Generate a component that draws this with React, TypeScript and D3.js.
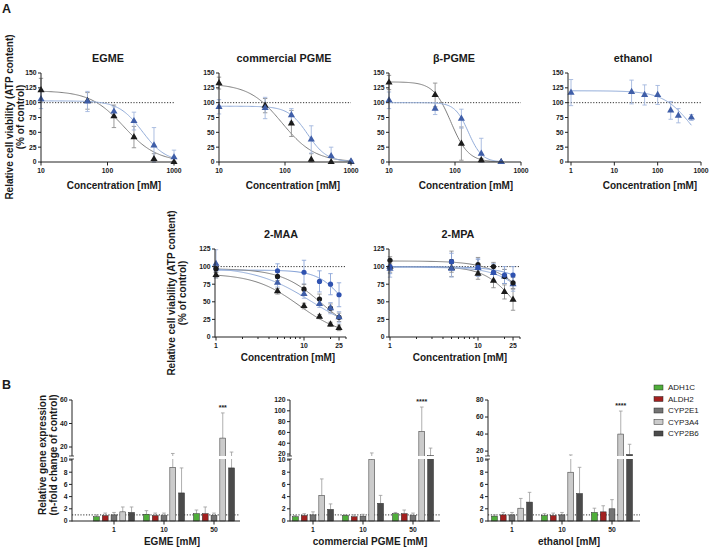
import React from 'react';
import * as d3 from 'd3';

const FONT = '"Liberation Sans", Arial, Helvetica, sans-serif';

// ---------------- Panel A data ----------------
const egmeConc = [10, 50, 125, 250, 500, 1000];
const egmeBlack = [121, 103, 77, 42, 5, 0];
const egmeBlackSd = [20, 14, 19, 18, 9, 1];
const egmeBlue = [106, 102, 85, 69, 28, 8];
const egmeBlueSd = [16, 17, 8, 15, 30, 12];
const egmeBlackFit = [120, 0, 175, 1.73];
const egmeBlueFit = [103, 0, 334, 2.44];

const pgmeConc = [10, 50, 125, 250, 500, 1000];
const pgmeBlack = [133, 95, 65, 4, 0, 0];
const pgmeBlackSd = [10, 12, 22, 10, 0, 0];
const pgmeBlue = [93, 91, 79, 38, 10, 1];
const pgmeBlueSd = [12, 18, 11, 23, 15, 2];
const pgmeBlackFit = [132, 0, 90, 1.74];
const pgmeBlueFit = [94, 0, 220, 2.95];

const bpgmeConc = [10, 50, 125, 250, 500];
const bpgmeBlack = [134, 113, 31, 3, 0];
const bpgmeBlackSd = [12, 20, 28, 3, 0];
const bpgmeBlue = [104, 90, 73, 14, 0];
const bpgmeBlueSd = [14, 10, 16, 26, 1];
const bpgmeBlackFit = [135, 0, 86.6, 3.29];
const bpgmeBlueFit = [100, 0, 160, 4.25];

const ethConc = [1, 25, 50, 100, 200, 300, 600];
const ethBlue = [117, 118, 113, 113, 87, 78, 75];
const ethBlueSd = [22, 20, 17, 16, 15, 12, 5];
const ethBlueFit = [120, 0, 631, 1.3];

const maaConc = [1, 5, 10, 15, 20, 25];
const maaBlackTri = [88, 65, 44, 29, 18, 13];
const maaBlackTriSd = [4, 4, 4, 3, 3, 4];
const maaBlackCirc = [97, 86, 68, 54, 41, 28];
const maaBlackCircSd = [5, 6, 7, 7, 6, 6];
const maaBlueTri = [104, 77, 61, 47, 41, 28];
const maaBlueTriSd = [20, 6, 6, 5, 8, 8];
const maaBlueCirc = [97, 94, 92, 79, 75, 60];
const maaBlueCircSd = [5, 10, 17, 15, 15, 17];
const maaBlackTriFit = [90, 0, 8.77, 1.7];
const maaBlackCircFit = [97, 0, 15.6, 1.91];
const maaBlueTriFit = [100, 0, 12.3, 1.335];
const maaBlueCircFit = [95, 0, 30.3, 2.82];

const mpaConc = [1, 5, 10, 15, 20, 25];
const mpaBlackCirc = [109, 107, 103, 100, 86, 77];
const mpaBlackCircSd = [5, 15, 10, 6, 10, 8];
const mpaBlueCirc = [100, 107, 99, 92, 88, 88];
const mpaBlueCircSd = [10, 12, 12, 12, 12, 12];
const mpaBlueTri = [97, 97, 98, 91, 86, 75];
const mpaBlueTriSd = [12, 12, 12, 10, 10, 10];
const mpaBlackTri = [100, 98, 90, 80, 64, 53];
const mpaBlackTriSd = [8, 12, 8, 10, 10, 15];
const mpaBlackCircFit = [108, 0, 39.5, 2.0];
const mpaBlueCircFit = [100, 0, 68, 2.0];
const mpaBlueTriFit = [99, 0, 43, 2.2];
const mpaBlackTriFit = [100, 0, 26.2, 2.48];

const yTicksRow1 = [0, 25, 50, 75, 100, 125, 150];
const yTicksRow2 = [0, 25, 50, 75, 100, 125];

// ---------------- Panel B data ----------------
const genes = ['ADH1C', 'ALDH2', 'CYP2E1', 'CYP3A4', 'CYP2B6'];
const geneColors = ['#4fae3a', '#a3201f', '#747474', '#cbcbcb', '#4b4b4b'];
const doses = ['1', '10', '50'];

const egmeB = [[0.7, 1.1, 1.2], [0.87, 0.87, 1.2], [1.0, 0.87, 0.9], [1.5, 8.8, 27.6], [1.4, 4.6, 8.7]];
const egmeBTop = [[1.0, 1.7, 1.8], [1.3, 1.3, 2.3], [1.4, 1.3, 1.3], [2.3, 14.5, 49], [2.3, 8.7, 15.7]];
const pgmeB = [[0.7, 0.9, 1.2], [0.9, 0.7, 1.2], [1.0, 0.8, 0.9], [4.2, 10.5, 62], [1.9, 2.9, 17]];
const pgmeBTop = [[0.9, 1.0, 1.4], [1.2, 1.0, 1.8], [1.5, 1.1, 1.3], [6.9, 22, 107], [2.8, 4.2, 31]];
const ethB = [[0.8, 0.9, 1.4], [1.0, 0.9, 1.5], [1.0, 1.0, 2.0], [2.1, 8.0, 40], [3.1, 4.5, 16]];
const ethBTop = [[1.0, 1.2, 2.1], [1.4, 1.3, 2.5], [1.4, 1.4, 3.5], [3.7, 15.5, 67], [4.7, 8.8, 28]];

const bottomTicks = [0, 2, 4, 6, 8, 10];
const egmeTopTicks = [20, 40, 60];
const pgmeTopTicks = [20, 40, 60, 80, 100, 120];
const ethTopTicks = [20, 40, 60, 80];

// ---------------- styles ----------------
const STYLE: Record<string, any> = {
  blackTri: { fill: '#1b1b1b', curve: '#808080', err: '#8e8e8e', shape: 'tri' },
  blackCirc: { fill: '#1b1b1b', curve: '#808080', err: '#8e8e8e', shape: 'circ' },
  blueTri: { fill: '#3f5ea8', curve: '#92acd9', err: '#a3b7de', shape: 'tri' },
  blueCirc: { fill: '#2f52b0', curve: '#7e9dd5', err: '#8ca6d8', shape: 'circ' },
};

const logistic = (p: number[]) => (c: number) => p[1] + (p[0] - p[1]) / (1 + Math.pow(c / p[2], p[3]));

type Series = { conc: number[]; mean: number[]; sd: number[]; fit: number[]; kind: string };

const tri = d3.symbol().type(d3.symbolTriangle).size(22)() as string;
const TICK_FS = 6.8;

function DosePanel(props: {
  axX: number; r0: number; r1: number; dom: [number, number]; yMax: number; yB: number; yT: number;
  yTicks: number[]; xTicks: number[]; minor: number[]; title: string; titleX: number; titleY: number;
  labelX: number; labelY: number; series: Series[];
}) {
  const { axX, r0, r1, dom, yMax, yB, yT, yTicks, xTicks, minor, title, titleX, titleY, labelX, labelY, series } = props;
  const x = d3.scaleLog().domain(dom).range([r0, r1]);
  const y = d3.scaleLinear().domain([0, yMax]).range([yB, yT]);
  return (
    <g>
      <text x={titleX} y={titleY} textAnchor="middle" fontSize={10.8} fontWeight="bold">{title}</text>
      <line x1={axX} x2={r1} y1={y(100)} y2={y(100)} stroke="#333" strokeWidth={1} strokeDasharray="1.2,1.6" />
      {series.map((s, i) => {
        const f = logistic(s.fit);
        const lo = s.conc[0], hi = s.conc[s.conc.length - 1];
        const pts = d3.range(0, 121).map((k) => Math.exp(Math.log(lo) + (Math.log(hi) - Math.log(lo)) * k / 120));
        const path = d3.line<number>().x((c) => x(c)).y((c) => y(Math.max(0, f(c))))(pts);
        return <path key={'c' + i} d={path as string} fill="none" stroke={STYLE[s.kind].curve} strokeWidth={1} />;
      })}
      {series.map((s, i) => s.conc.map((c, j) => {
        const st = STYLE[s.kind];
        const top = s.mean[j] + s.sd[j];
        const bot = Math.max(0, s.mean[j] - s.sd[j]);
        if (s.sd[j] <= 0) return null;
        const cx = x(c);
        return (
          <g key={'e' + i + '_' + j} stroke={st.err} strokeWidth={0.9}>
            <line x1={cx} x2={cx} y1={y(top)} y2={y(bot)} />
            <line x1={cx - 2.2} x2={cx + 2.2} y1={y(top)} y2={y(top)} />
            <line x1={cx - 2.2} x2={cx + 2.2} y1={y(bot)} y2={y(bot)} />
          </g>
        );
      }))}
      {series.map((s, i) => s.conc.map((c, j) => {
        const st = STYLE[s.kind];
        const cx = x(c), cy = y(s.mean[j]);
        return st.shape === 'tri'
          ? <path key={'m' + i + '_' + j} d={tri} transform={`translate(${cx},${cy})`} fill={st.fill} />
          : <circle key={'m' + i + '_' + j} cx={cx} cy={cy} r={2.6} fill={st.fill} />;
      }))}
      <line x1={axX} x2={axX} y1={yB + 0.5} y2={yT} stroke="#222" strokeWidth={1} />
      <line x1={axX} x2={r1} y1={yB} y2={yB} stroke="#222" strokeWidth={1} />
      {yTicks.map((t) => (
        <g key={'yt' + t}>
          <line x1={axX - 3} x2={axX} y1={y(t)} y2={y(t)} stroke="#222" />
          <text x={axX - 4.5} y={y(t)} dy="0.35em" textAnchor="end" fontSize={TICK_FS} fontWeight="bold">{t}</text>
        </g>
      ))}
      {xTicks.map((t) => (
        <g key={'xt' + t}>
          <line x1={x(t)} x2={x(t)} y1={yB} y2={yB + 3.5} stroke="#222" />
          <text x={x(t)} y={yB + 11} textAnchor="middle" fontSize={TICK_FS} fontWeight="bold">{t}</text>
        </g>
      ))}
      {minor.map((t) => (
        <line key={'mn' + t} x1={x(t)} x2={x(t)} y1={yB} y2={yB + 2} stroke="#222" />
      ))}
      <text x={labelX} y={labelY} textAnchor="middle" fontSize={10} fontWeight="bold">Concentration [mM]</text>
    </g>
  );
}

function BarPanel(props: {
  axX: number; axEnd: number; g0: number; g1: number; topDom: [number, number]; topTicks: number[];
  means: number[][]; tops: number[][]; stars: string; xLabel: string; labelX: number;
}) {
  const { axX, axEnd, g0, g1, topDom, topTicks, means, tops, stars, xLabel, labelX } = props;
  const y0 = 521, y10 = 460, gapTop = 455, yTop = 400;
  const yBot = d3.scaleLinear().domain([0, 10]).range([y0, y10]);
  const yUp = d3.scaleLinear().domain(topDom).range([gapTop, yTop]);
  const yv = (v: number) => v <= 10 ? yBot(v) : v < topDom[0] ? y10 - (v - 10) / (topDom[0] - 10) * (y10 - gapTop) : yUp(v);
  const xg = d3.scaleBand().domain(doses).range([g0, g1]);
  const bw = 41;
  return (
    <g>
      <line x1={axX} x2={axEnd} y1={yBot(1)} y2={yBot(1)} stroke="#333" strokeDasharray="1.2,1.6" strokeWidth={1} />
      {doses.map((d, di) => {
        const c = (xg(d) as number) + xg.bandwidth() / 2;
        const xi = d3.scaleBand().domain(genes).range([c - bw / 2, c + bw / 2]).paddingInner(0.33);
        return genes.map((g, gi) => {
          const v = means[gi][di], t = tops[gi][di];
          const bx = xi(g) as number;
          const cx = bx + xi.bandwidth() / 2;
          return (
            <g key={d + g}>
              <line x1={cx} x2={cx} y1={yv(v)} y2={yv(t)} stroke="#9a9a9a" strokeWidth={0.8} />
              <line x1={cx - 1.8} x2={cx + 1.8} y1={yv(t)} y2={yv(t)} stroke="#9a9a9a" strokeWidth={0.8} />
              <rect x={bx} y={yv(v)} width={xi.bandwidth()} height={y0 - yv(v)} fill={geneColors[gi]} stroke="#2a2a2a" strokeWidth={0.5} />
              {di === 2 && gi === 3 ? (
                <text x={cx} y={yv(t) - 3} textAnchor="middle" fontSize={7} fontWeight="bold">{stars}</text>
              ) : null}
            </g>
          );
        });
      })}
      <rect x={axX - 5} y={gapTop + 1} width={axEnd - axX + 5} height={3} fill="#fff" />
      <line x1={axX} x2={axX} y1={y0 + 0.5} y2={gapTop + 4} stroke="#222" />
      <line x1={axX} x2={axX} y1={gapTop + 1} y2={yTop} stroke="#222" />
      <line x1={axX - 3} x2={axX + 2} y1={gapTop + 1} y2={gapTop + 1} stroke="#222" strokeWidth={0.8} />
      <line x1={axX - 3} x2={axX + 2} y1={gapTop + 4} y2={gapTop + 4} stroke="#222" strokeWidth={0.8} />
      {bottomTicks.map((t) => (
        <g key={'b' + t}>
          <line x1={axX - 3} x2={axX} y1={yBot(t)} y2={yBot(t)} stroke="#222" />
          <text x={axX - 4.5} y={yBot(t)} dy="0.35em" textAnchor="end" fontSize={TICK_FS} fontWeight="bold">{t}</text>
        </g>
      ))}
      {topTicks.map((t) => (
        <g key={'t' + t}>
          <line x1={axX - 3} x2={axX} y1={yUp(t)} y2={yUp(t)} stroke="#222" />
          <text x={axX - 4.5} y={yUp(t)} dy="0.35em" textAnchor="end" fontSize={TICK_FS} fontWeight="bold">{t}</text>
        </g>
      ))}
      <line x1={axX} x2={axEnd} y1={y0} y2={y0} stroke="#222" />
      {doses.map((d) => {
        const c = (xg(d) as number) + xg.bandwidth() / 2;
        return (
          <g key={'xd' + d}>
            <line x1={c} x2={c} y1={y0} y2={y0 + 3.5} stroke="#222" />
            <text x={c} y={y0 + 11} textAnchor="middle" fontSize={TICK_FS} fontWeight="bold">{d}</text>
          </g>
        );
      })}
      <text x={labelX} y={545} textAnchor="middle" fontSize={10} fontWeight="bold">{xLabel}</text>
    </g>
  );
}

const mk = (conc: number[], mean: number[], sd: number[], fit: number[], kind: string): Series => ({ conc, mean, sd, fit, kind });

export default function App() {
  const row1 = { yB: 162, yT: 73, yMax: 150, yTicks: yTicksRow1, minor: [] as number[], titleY: 62, labelY: 189 };
  const row2 = { yB: 337, yT: 249, yMax: 125, yTicks: yTicksRow2, minor: [2, 3, 4, 5, 6, 7, 8, 9, 20, 30], titleY: 238, labelY: 361 };
  return (
    <svg width={709} height={548} style={{ position: 'absolute', left: 0, top: 0, background: '#fff' }} fontFamily={FONT} fill="#1a1a1a">
      <rect x={0} y={0} width={709} height={548} fill="#fff" />
      <text x={2} y={13} fontSize={12.5} fontWeight="bold">A</text>
      <text x={2} y={389} fontSize={12.5} fontWeight="bold">B</text>

      <text transform="translate(13,117) rotate(-90)" textAnchor="middle" fontSize={10} fontWeight="bold">Relative cell viability (ATP content)</text>
      <text transform="translate(24,117) rotate(-90)" textAnchor="middle" fontSize={10} fontWeight="bold">(% of control)</text>
      <text transform="translate(175,293) rotate(-90)" textAnchor="middle" fontSize={10} fontWeight="bold">Relative cell viability (ATP content)</text>
      <text transform="translate(186,293) rotate(-90)" textAnchor="middle" fontSize={10} fontWeight="bold">(% of control)</text>

      <DosePanel {...row1} axX={41} r0={41} r1={174} dom={[10, 1000]} xTicks={[10, 100, 1000]} title="EGME" titleX={108} labelX={114}
        series={[mk(egmeConc, egmeBlack, egmeBlackSd, egmeBlackFit, 'blackTri'), mk(egmeConc, egmeBlue, egmeBlueSd, egmeBlueFit, 'blueTri')]} />
      <DosePanel {...row1} axX={219} r0={219} r1={351} dom={[10, 1000]} xTicks={[10, 100, 1000]} title="commercial PGME" titleX={284} labelX={293}
        series={[mk(pgmeConc, pgmeBlack, pgmeBlackSd, pgmeBlackFit, 'blackTri'), mk(pgmeConc, pgmeBlue, pgmeBlueSd, pgmeBlueFit, 'blueTri')]} />
      <DosePanel {...row1} axX={389} r0={389} r1={521} dom={[10, 1000]} xTicks={[10, 100, 1000]} title="β-PGME" titleX={454} labelX={466}
        series={[mk(bpgmeConc, bpgmeBlack, bpgmeBlackSd, bpgmeBlackFit, 'blackTri'), mk(bpgmeConc, bpgmeBlue, bpgmeBlueSd, bpgmeBlueFit, 'blueTri')]} />
      <DosePanel {...row1} axX={568} r0={571} r1={701} dom={[1, 1000]} xTicks={[1, 10, 100, 1000]} title="ethanol" titleX={633} labelX={650}
        series={[mk(ethConc, ethBlue, ethBlueSd, ethBlueFit, 'blueTri')]} />

      <DosePanel {...row2} axX={215} r0={216} r1={346} dom={[1, 30]} xTicks={[1, 10, 25]} title="2-MAA" titleX={281} labelX={288}
        series={[
          mk(maaConc, maaBlueCirc, maaBlueCircSd, maaBlueCircFit, 'blueCirc'),
          mk(maaConc, maaBlackCirc, maaBlackCircSd, maaBlackCircFit, 'blackCirc'),
          mk(maaConc, maaBlueTri, maaBlueTriSd, maaBlueTriFit, 'blueTri'),
          mk(maaConc, maaBlackTri, maaBlackTriSd, maaBlackTriFit, 'blackTri'),
        ]} />
      <DosePanel {...row2} axX={389} r0={390} r1={520} dom={[1, 30]} xTicks={[1, 10, 25]} title="2-MPA" titleX={458} labelX={460}
        series={[
          mk(mpaConc, mpaBlackTri, mpaBlackTriSd, mpaBlackTriFit, 'blackTri'),
          mk(mpaConc, mpaBlueTri, mpaBlueTriSd, mpaBlueTriFit, 'blueTri'),
          mk(mpaConc, mpaBlackCirc, mpaBlackCircSd, mpaBlackCircFit, 'blackCirc'),
          mk(mpaConc, mpaBlueCirc, mpaBlueCircSd, mpaBlueCircFit, 'blueCirc'),
        ]} />

      <text transform="translate(46,455) rotate(-90)" textAnchor="middle" fontSize={10} fontWeight="bold">Relative gene expression</text>
      <text transform="translate(57,455) rotate(-90)" textAnchor="middle" fontSize={10} fontWeight="bold">(n-fold change of control)</text>

      <BarPanel axX={72} axEnd={240} g0={89} g1={239} topDom={[13.2, 60]} topTicks={egmeTopTicks} means={egmeB} tops={egmeBTop} stars="***" xLabel="EGME [mM]" labelX={172} />
      <BarPanel axX={290} axEnd={440} g0={288} g1={438} topDom={[18.2, 120]} topTicks={pgmeTopTicks} means={pgmeB} tops={pgmeBTop} stars="****" xLabel="commercial PGME [mM]" labelX={370} />
      <BarPanel axX={488} axEnd={640} g0={487} g1={637} topDom={[15.4, 80]} topTicks={ethTopTicks} means={ethB} tops={ethBTop} stars="****" xLabel="ethanol [mM]" labelX={569} />

      {genes.map((g, i) => (
        <g key={g}>
          <rect x={654} y={385 + i * 11.5} width={9} height={5} fill={geneColors[i]} stroke="#2a2a2a" strokeWidth={0.5} />
          <text x={668} y={387.5 + i * 11.5} dy="0.35em" fontSize={8} fill="#222">{g}</text>
        </g>
      ))}
    </svg>
  );
}
